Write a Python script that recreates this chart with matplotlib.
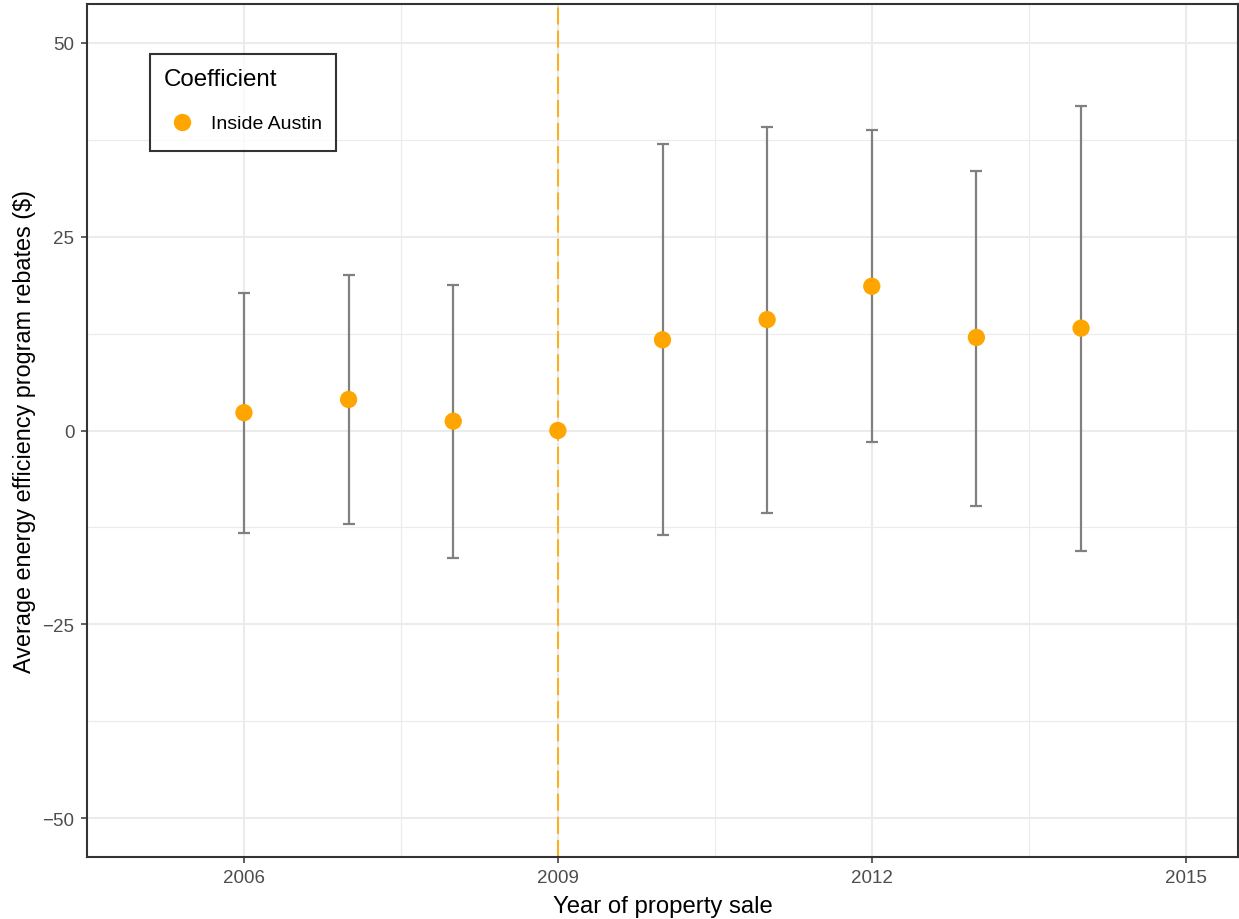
import matplotlib
matplotlib.use("Agg")
import matplotlib.pyplot as plt
from matplotlib.lines import Line2D
from matplotlib.legend_handler import HandlerLine2D
import numpy as np

years = [2006, 2007, 2008, 2009, 2010, 2011, 2012, 2013, 2014]
estimates = [2.3, 4.0, 1.2, 0.0, 11.7, 14.3, 18.6, 12.0, 13.2]
upper = [17.7, 20.0, 18.7, None, 37.0, 39.2, 38.8, 33.5, 41.9]
lower = [-13.2, -12.0, -16.4, None, -13.5, -10.6, -1.5, -9.7, -15.5]
x_ticks = [2006, 2009, 2012, 2015]
y_ticks = [-50, -25, 0, 25, 50]
event_year = 2009

plt.rcParams['font.family'] = ['Liberation Sans', 'DejaVu Sans']

fig = plt.figure(figsize=(12.39, 9.2), dpi=100)
ax = fig.add_axes([87/1239, (920-858)/920, (1238-87)/1239, (858-5)/920])

ax.set_xlim(2004.5, 2015.5)
ax.set_ylim(-55, 55)
ax.set_xticks(x_ticks)
ax.set_yticks(y_ticks)
ax.set_yticklabels(["\u221250", "\u221225", "0", "25", "50"])
ax.set_xticks([2007.5, 2010.5, 2013.5], minor=True)
ax.set_yticks([-37.5, -12.5, 12.5, 37.5], minor=True)
ax.grid(True, which='major', color='#EBEBEB', lw=1.5, zorder=0)
ax.grid(True, which='minor', color='#EBEBEB', lw=0.8, zorder=0)
ax.set_axisbelow(True)
ax.tick_params(which='minor', length=0)
ax.tick_params(which='major', length=4, width=1.1, color='#333333',
               labelcolor='#4D4D4D', labelsize=13.5, pad=5)
for s in ax.spines.values():
    s.set_color('#333333')
    s.set_linewidth(1.5)

ax.axvline(event_year, color='#FFA500', alpha=0.85, lw=1.5,
           linestyle=(0, (8.2, 2.9)), zorder=1)

ex = [x for x, u in zip(years, upper) if u is not None]
ey = [e for e, u in zip(estimates, upper) if u is not None]
eu = [u for u in upper if u is not None]
el = [l for l in lower if l is not None]
yerr = [np.array(ey) - np.array(el), np.array(eu) - np.array(ey)]
ax.errorbar(ex, ey, yerr=yerr, fmt='none', ecolor='#808080', elinewidth=1.6,
            capsize=4.3, capthick=1.6, zorder=2)
ax.scatter(years, estimates, s=155, color='#FFA500', edgecolors='none', zorder=3)

ax.set_xlabel("Year of property sale", fontsize=17.2, color='black', labelpad=6)
ax.set_ylabel("Average energy efficiency program rebates ($)", fontsize=16.8,
              color='black', labelpad=5)


class ShiftedHandler(HandlerLine2D):
    def create_artists(self, legend, orig_handle, xdescent, ydescent,
                       width, height, fontsize, trans):
        arts = super().create_artists(legend, orig_handle, xdescent, ydescent,
                                      width, height, fontsize, trans)
        for a in arts:
            y = a.get_ydata()
            a.set_ydata(np.asarray(y) - 3.8)
        return arts


handle = Line2D([], [], marker='o', color='none', markerfacecolor='#FFA500',
                markeredgecolor='none', markersize=12.5)
leg = ax.legend([handle], ["Inside Austin"], title="Coefficient",
                loc='upper left', bbox_to_anchor=((150-87)/1151, (858-55)/853),
                fontsize=14, title_fontsize=17.4, frameon=True, fancybox=False,
                edgecolor='black', borderpad=0.7, handletextpad=0.6,
                handlelength=1.85, handleheight=2.1, labelspacing=0.5,
                borderaxespad=0, handler_map={Line2D: ShiftedHandler()})
leg._legend_box.align = "left"
leg._legend_box.sep = 12
leg.get_frame().set_linewidth(1.5)

fig.savefig("out.png", dpi=100)
